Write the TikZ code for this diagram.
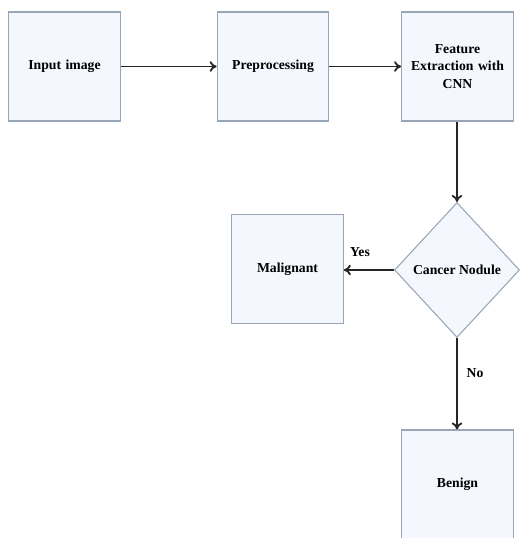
\documentclass[tikz,border=0pt]{standalone}
\usepackage{fontspec}
\setmainfont{Liberation Serif}
\usetikzlibrary{shapes.geometric,arrows.meta}
\definecolor{boxfill}{HTML}{F4F7FD}
\definecolor{boxline}{HTML}{98A6B6}
\tikzset{
  stepbox/.style={draw=boxline, line width=0.6pt, fill=boxfill, minimum width=2.18cm, minimum height=2.18cm, align=center, text width=2cm, font=\fontsize{7.8}{10.2}\selectfont\bfseries},
  decision/.style={diamond, draw=boxline, line width=0.6pt, fill=boxfill, minimum width=2.5cm, minimum height=2.7cm, aspect=0.93, inner sep=0pt, font=\fontsize{7.8}{10.2}\selectfont\bfseries},
  flow/.style={-{To[length=4pt,width=6pt]}, line width=1.05pt, black!85},
  lbl/.style={font=\fontsize{7.8}{10.2}\selectfont\bfseries}
}
\begin{document}
\begin{tikzpicture}
        \useasboundingbox (0,0) rectangle (10.4,-10.76);
        \node[stepbox] at (1.29,-1.33) (input) {Input image};
        \node[stepbox] at (5.46,-1.33) (prep) {Preprocessing};
        \node[stepbox] at (9.15,-1.33) (feat) {Feature\\ Extraction with\\ CNN};
        \node[decision] at (9.14,-5.40) (nod) {Cancer Nodule};
        \node[stepbox] at (5.75,-5.38) (mal) {Malignant};
        \node[stepbox] at (9.15,-9.69) (ben) {Benign};
        \node[lbl] at (7.2,-5.04) (yes) {Yes};
        \node[lbl] at (9.5,-7.46) (no) {No};

        \draw[flow] (input)--(prep);
        \draw[flow] (prep)--(feat);
        \draw[flow] (feat.south -| nod.north)--(nod.north);
        \draw[flow] (nod.west)--(nod.west -| mal.east);
        \draw[flow] (nod.south)--(nod.south |- ben.north);
      \end{tikzpicture}
\end{document}
